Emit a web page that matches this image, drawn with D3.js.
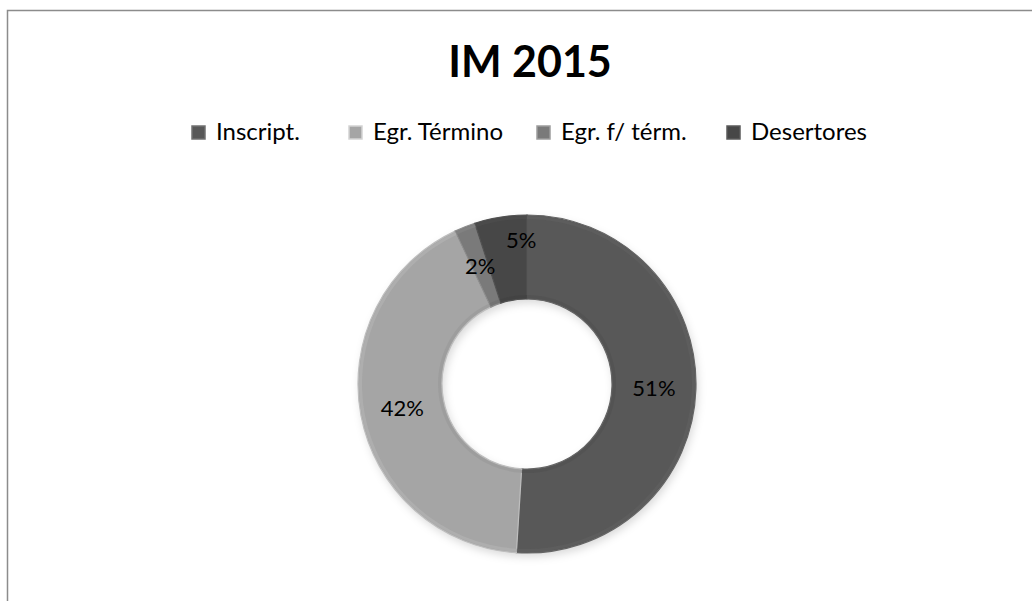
<!DOCTYPE html>
<html><head><meta charset="utf-8">
<script src="https://cdn.jsdelivr.net/npm/d3@7"></script>
<style>html,body{margin:0;padding:0;background:#fff;} svg{display:block;}</style>
</head><body>
<script>
const title = "IM 2015";
const categories = ["Inscript.", "Egr. Término", "Egr. f/ térm.", "Desertores"];
const values = [51, 42, 2, 5];
const colors = ["#585858", "#a5a5a5", "#7a7a7a", "#474747"];
const labelNudge = [[0,0],[0,0],[0,0],[14,-18]];

const W = 1032, H = 601;
const cx = 527, cy = 384, rOuter = 169, rInner = 85;

const svg = d3.select("body").append("svg").attr("width", W).attr("height", H);
const defs = svg.append("defs");

svg.append("path").attr("d", `M7.5,${H} L7.5,10.5 L${W},10.5`)
  .attr("fill","none").attr("stroke","#8c8c8c").attr("stroke-width",1.5);

svg.append("text").attr("x", 530).attr("y", 77).attr("text-anchor","middle")
  .attr("font-family","Lato, 'Open Sans', sans-serif").attr("font-weight","bold")
  .attr("font-size", 43).attr("fill","#000").text(title);

const sh = defs.append("filter").attr("id","shadow").attr("x","-20%").attr("y","-20%").attr("width","140%").attr("height","140%");
sh.append("feGaussianBlur").attr("stdDeviation",4);

// legend
const legendX = [192, 349, 537, 727];
const legend = svg.append("g");
categories.forEach((c,i)=>{
  const g = legend.append("g").attr("transform",`translate(${legendX[i]},126)`);
  g.append("rect").attr("width",13).attr("height",13).attr("fill",colors[i])
    .attr("stroke", d3.color(colors[i]).brighter(0.7)).attr("stroke-width",1.5);
  g.append("text").attr("x",24).attr("y",14).attr("font-family","Lato, sans-serif")
    .attr("font-size",24).attr("fill","#000").text(c);
});

const pie = d3.pie().sort(null).value(d=>d);
const arcs = pie(values);
const arc = d3.arc().innerRadius(rInner).outerRadius(rOuter);

const g = svg.append("g").attr("transform",`translate(${cx},${cy})`);
g.append("path").attr("d", d3.arc().innerRadius(rInner).outerRadius(rOuter)({startAngle:0,endAngle:2*Math.PI}))
  .attr("fill","rgba(0,0,0,0.15)").attr("transform","translate(2,4)").attr("filter","url(#shadow)");

g.selectAll("path.slice").data(arcs).join("path").attr("class","slice")
  .attr("d", arc).attr("fill",(d,i)=>colors[i])
  .attr("stroke",(d,i)=>d3.color(colors[i]).brighter(0.4)).attr("stroke-width",1.2);

// subtle edge bevel: inner rings
const bevelOut = d3.arc().innerRadius(rOuter-4).outerRadius(rOuter-1);
const bevelIn = d3.arc().innerRadius(rInner+1).outerRadius(rInner+4);
g.selectAll("path.bo").data(arcs).join("path").attr("class","bo").attr("d", bevelOut)
  .attr("fill",(d,i)=>d3.color(colors[i]).brighter(0.25)).attr("opacity",0.6);
g.selectAll("path.bi").data(arcs).join("path").attr("class","bi").attr("d", bevelIn)
  .attr("fill",(d,i)=>d3.color(colors[i]).darker(0.25)).attr("opacity",0.6);

g.selectAll("text.lbl").data(arcs).join("text").attr("class","lbl")
  .attr("transform",(d,i)=>{const p=arc.centroid(d); return `translate(${p[0]+labelNudge[i][0]},${p[1]+labelNudge[i][1]})`;})
  .attr("text-anchor","middle").attr("dy","0.36em")
  .attr("font-family","Lato, sans-serif").attr("font-size",22).attr("fill","#000")
  .text(d=>d.data+"%");
</script>
</body></html>
